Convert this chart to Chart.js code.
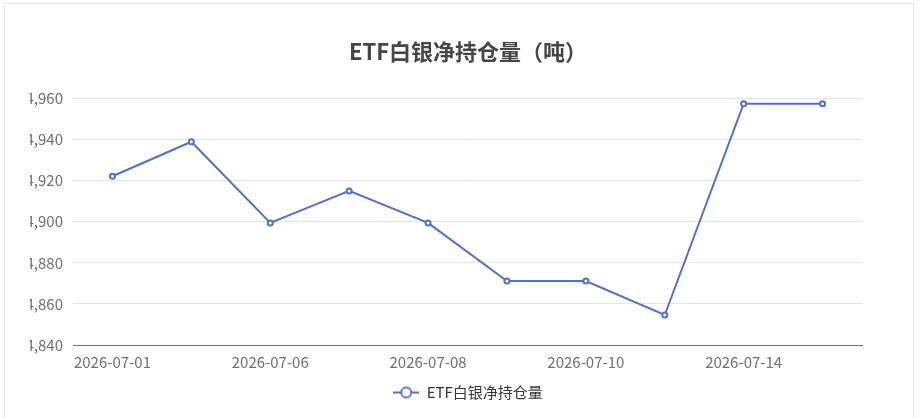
<!DOCTYPE html>
<html>
<head>
<meta charset="utf-8">
<script src="https://cdn.jsdelivr.net/npm/chart.js@4.4.1/dist/chart.umd.min.js"></script>
<style>
    body { margin: 0; background: #fff; }
    #frame {
        position: absolute; left: 4px; top: 3px; width: 910px; height: 440px;
        border: 1px solid #e6e6e6; box-sizing: border-box;
    }
    #wrap { position: absolute; left: 30px; top: 0; width: 876px; height: 418px; }
</style>
</head>
<body>
<div id="frame"></div>
<div id="wrap"><canvas id="etf-chart"></canvas></div>
<script>
(function () {
    "use strict";

    const dates = [
        "2026-07-01", "2026-07-02", "2026-07-06", "2026-07-07", "2026-07-08",
        "2026-07-09", "2026-07-10", "2026-07-13", "2026-07-14", "2026-07-15",
    ];
    const holdings = [
        14922.1, 14938.9, 14899.4, 14915.0, 14899.4,
        14871.1, 14871.1, 14854.6, 14957.4, 14957.4,
    ];
    const yTicks = [14840, 14860, 14880, 14900, 14920, 14940, 14960];

    const font = "'Noto Sans CJK SC', 'Microsoft YaHei', sans-serif";
    const blue = "#5470c6";

    // legend icon: line with empty circle
    const icon = document.createElement("canvas");
    icon.width = 26;
    icon.height = 14;
    const ic = icon.getContext("2d");
    ic.strokeStyle = blue;
    ic.lineWidth = 2;
    ic.beginPath();
    ic.moveTo(0, 7);
    ic.lineTo(26, 7);
    ic.stroke();
    ic.fillStyle = "#fff";
    ic.beginPath();
    ic.arc(13, 7, 5, 0, Math.PI * 2);
    ic.fill();
    ic.stroke();

    new Chart(document.getElementById("etf-chart"), {
        type: "line",
        data: {
            labels: dates,
            datasets: [
                {
                    label: "ETF白银净持仓量",
                    data: holdings,
                    borderColor: blue,
                    borderWidth: 2,
                    backgroundColor: "#fff",
                    pointBackgroundColor: "#fff",
                    pointBorderColor: blue,
                    pointBorderWidth: 2,
                    pointRadius: 2.5,
                    tension: 0,
                },
            ],
        },
        options: {
            responsive: true,
            maintainAspectRatio: false,
            animation: false,
            layout: {
                padding: { left: 0, right: 0, top: 0, bottom: 8 },
            },
            plugins: {
                title: {
                    display: true,
                    text: "ETF白银净持仓量（吨）",
                    color: "#464646",
                    font: { family: font, size: 22, weight: "bold" },
                    padding: { top: 38, bottom: 34 },
                },
                legend: {
                    position: "bottom",
                    labels: {
                        usePointStyle: true,
                        pointStyleWidth: 26,
                        boxHeight: 14,
                        color: "#333",
                        font: { family: font, size: 15 },
                        padding: 6,
                        generateLabels: (chart) => [
                            {
                                text: "ETF白银净持仓量",
                                pointStyle: icon,
                                fontColor: "#333",
                                datasetIndex: 0,
                            },
                        ],
                    },
                },
                tooltip: { enabled: false },
            },
            scales: {
                x: {
                    offset: true,
                    grid: { display: false, drawTicks: false },
                    border: { display: true, color: "#6e7079", width: 1 },
                    ticks: {
                        autoSkip: false,
                        maxRotation: 0,
                        padding: 8,
                        color: "#6e7079",
                        font: { family: font, size: 15 },
                        callback: function (value, index) {
                            return index % 2 === 0 ? this.getLabelForValue(value) : "";
                        },
                    },
                },
                y: {
                    min: yTicks[0],
                    max: yTicks[yTicks.length - 1],
                    afterBuildTicks: (scale) => {
                        scale.ticks = yTicks.map((v) => ({ value: v }));
                    },
                    afterFit: (scale) => {
                        scale.width = 43;
                    },
                    grid: { color: "#e0e6f1", drawTicks: false },
                    border: { display: false },
                    ticks: {
                        padding: 10,
                        color: "#6e7079",
                        font: { family: font, size: 15 },
                    },
                },
                // empty right axis, keeps the plot's right margin
                yRight: {
                    position: "right",
                    display: true,
                    grid: { display: false, drawTicks: false },
                    border: { display: false },
                    ticks: { display: false },
                    afterFit: (scale) => {
                        scale.width = 44;
                    },
                },
            },
        },
    });
})();
</script>
</body>
</html>
